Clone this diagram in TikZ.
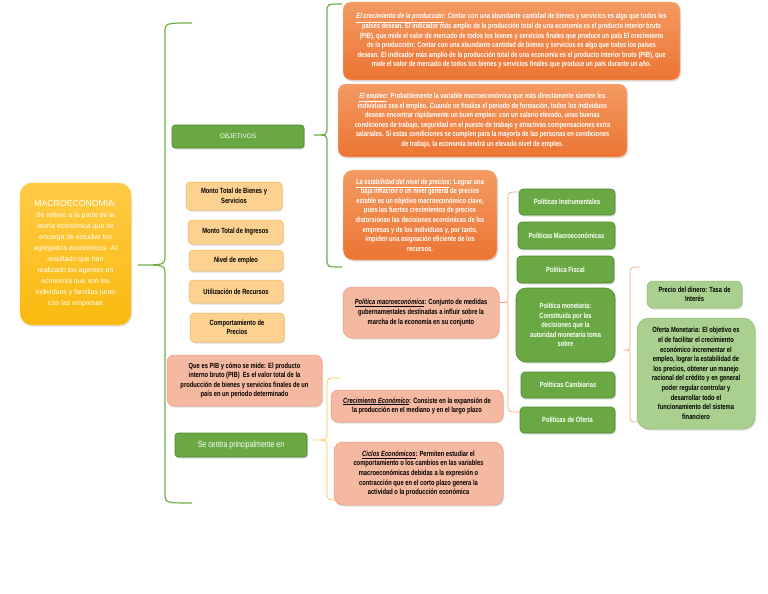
\documentclass[tikz,border=0pt]{standalone}
\usepackage{fontspec}
\setmainfont{Liberation Sans}
\newfontfamily\narrowfont[FakeStretch=0.77]{Liberation Sans}
\usetikzlibrary{shadows}
\definecolor{orng}{HTML}{EC7533}
\definecolor{orngtop}{HTML}{F39A62}
\definecolor{gold}{HTML}{F9B90E}
\definecolor{goldtop}{HTML}{FFCB45}
\definecolor{peach}{HTML}{FDD291}
\definecolor{peachdk}{HTML}{F5B552}
\definecolor{salmon}{HTML}{F5B8A0}
\definecolor{salmondk}{HTML}{EC9A7C}
\definecolor{grn}{HTML}{69A843}
\definecolor{grndk}{HTML}{4F8A30}
\definecolor{ltgrn}{HTML}{A9D08E}
\definecolor{ltgrndk}{HTML}{8DBB70}
\definecolor{bracegrn}{HTML}{70AD47}
\definecolor{braceorng}{HTML}{F2A070}
\definecolor{braceyel}{HTML}{FFC24A}

\begin{document}
\begin{tikzpicture}[x=1pt, y=-1pt,
  box/.style={rounded corners=4pt, align=center, inner sep=0pt,
    drop shadow={shadow xshift=1pt, shadow yshift=-1.5pt, opacity=.25},
    font=\narrowfont\fontsize{7.5}{9.6}\selectfont\bfseries},
  orangebox/.style={box, top color=orngtop, bottom color=orng, draw=orngtop!60, text=white, rounded corners=8pt},
  goldbox/.style={box, top color=goldtop, bottom color=gold, draw=goldtop, text=white, rounded corners=12pt,
    font=\fontsize{7}{11}\selectfont},
  peachbox/.style={box, fill=peach, draw=peachdk, line width=0.5pt, text=black},
  salmonbox/.style={box, fill=salmon, draw=salmondk, line width=0.5pt, text=black, rounded corners=7pt},
  greenbox/.style={box, fill=grn, draw=grndk, line width=0.6pt, text=white},
  ltgreenbox/.style={box, fill=ltgrn, draw=ltgrndk, line width=0.5pt, text=black, rounded corners=6pt},
  bracegreen/.style={bracegrn, line width=1.2pt},
  braceorange/.style={braceorng, line width=0.6pt},
  braceyellow/.style={braceyel, line width=0.7pt}]

\useasboundingbox (0,0) rectangle (768,594);
\fill[white] (0,0) rectangle (768,594);

% ------------------------------------------------------------
% Main concept
% ------------------------------------------------------------
\node[goldbox, minimum width=111pt, minimum height=142pt] (macro) at (75.5,254)
  {{\fontsize{8.7}{11}\selectfont MACROECONOMIA:}\\Se refiere a la parte de la\\teoría económica que se\\encarga de estudiar los\\agregados económicos. Al\\resultado que han\\realizado los agentes en\\economía que son los\\individuos y familias junto\\con las empresas};

% Big brace (green)
\coordinate (tipmain) at (138,265);
\draw[bracegreen] (192,23) .. controls (165,23) .. (165,33) -- (165,255)
  .. controls (165,265) .. (tipmain) .. controls (165,265) .. (165,275)
  -- (165,493) .. controls (165,503) .. (192,503);

% ------------------------------------------------------------
% Objetivos
% ------------------------------------------------------------
\node[greenbox, rounded corners=3pt, minimum width=132pt, minimum height=23pt,
  font=\fontsize{6.5}{8}\selectfont] (objetivos) at (238,136.5) {OBJETIVOS};

\coordinate (tipobj) at (314,135);
\draw[bracegreen] (342,4) .. controls (327,4) .. (327,12) -- (327,127)
  .. controls (327,135) .. (tipobj) .. controls (327,135) .. (327,143)
  -- (327,259) .. controls (327,267) .. (342,267);

\node[orangebox, minimum width=337pt, minimum height=78pt] (crecprod) at (511.5,41)
  {\underline{\itshape El crecimiento de la producción}: Contar con una abundante cantidad de bienes y servicios es algo que todos los\\
   países desean. El indicador más amplio de la producción total de una economía es el producto interior bruto\\
   (PIB), que mide el valor de mercado de todos los bienes y servicios finales que produce un país El crecimiento\\
   de la producción: Contar con una abundante cantidad de bienes y servicios es algo que todos los países\\
   desean. El indicador más amplio de la producción total de una economía es el producto interior bruto (PIB), que\\
   mide el valor de mercado de todos los bienes y servicios finales que produce un país durante un año.};

\node[orangebox, minimum width=289pt, minimum height=73pt] (empleo) at (482.5,120.5)
  {\underline{\itshape El empleo}: Probablemente la variable macroeconómica que más directamente sienten los\\
   individuos sea el empleo. Cuando se finaliza el periodo de formación, todos los individuos\\
   desean encontrar rápidamente un buen empleo: con un salario elevado, unas buenas\\
   condiciones de trabajo, seguridad en el puesto de trabajo y atractivas compensaciones extra\\
   salariales. Si estas condiciones se cumplen para la mayoría de las personas en condiciones\\
   de trabajo, la economía tendrá un elevado nivel de empleo.};

\node[orangebox, rounded corners=10pt, minimum width=154pt, minimum height=90pt] (precios) at (420,215)
  {\underline{\itshape La estabilidad del nivel de precios}: Lograr una\\
   baja inflación o un nivel general de precios\\
   estable es un objetivo macroeconómico clave,\\
   pues los fuertes crecimientos de precios\\
   distorsionan las decisiones económicas de las\\
   empresas y de los individuos y, por tanto,\\
   impiden una asignación eficiente de los\\
   recursos.};

% ------------------------------------------------------------
% Small aims
% ------------------------------------------------------------
\node[peachbox, minimum width=96pt, minimum height=28pt] (bienes) at (234,196) {Monto Total de Bienes y\\Servicios};
\node[peachbox, minimum width=95pt, minimum height=24pt] (ingresos) at (235.5,232) {Monto Total de Ingresos};
\node[peachbox, minimum width=94pt, minimum height=21pt] (nivel) at (236,260.5) {Nivel de empleo};
\node[peachbox, minimum width=94pt, minimum height=23pt] (recursos) at (236,291.5) {Utilización de Recursos};
\node[peachbox, minimum width=94pt, minimum height=29pt] (comport) at (237,327.5) {Comportamiento de\\Precios};

\node[salmonbox, minimum width=155pt, minimum height=51pt] (pib) at (244.5,380.5)
  {Que es PIB y cómo se mide: El producto\\
   interno bruto (PIB)~ Es el valor total de la\\
   producción de bienes y servicios finales de un\\
   país en un periodo determinado};

% ------------------------------------------------------------
% Se centra principalmente en
% ------------------------------------------------------------
\node[greenbox, rounded corners=3pt, minimum width=132pt, minimum height=24pt,
  font=\narrowfont\fontsize{9}{10}\selectfont] (centra) at (241,445) {Se centra principalmente en};

\coordinate (tipcentra) at (313,440);
\draw[braceyellow] (340,378) .. controls (327,378) .. (327,386) -- (327,432)
  .. controls (327,440) .. (tipcentra) .. controls (327,440) .. (327,448)
  -- (327,492) .. controls (327,500) .. (340,500);

\node[salmonbox, minimum width=172pt, minimum height=32pt] (crececo) at (417,406)
  {\underline{\itshape Crecimiento Económico}: Consiste en la expansión de\\
   la producción en el mediano y en el largo plazo};

\node[salmonbox, rounded corners=9pt, minimum width=169pt, minimum height=63pt] (ciclos) at (418.5,473.5)
  {\underline{\itshape Ciclos Económicos}: Permiten estudiar el\\
   comportamiento o los cambios en las variables\\
   macroeconómicas debidas a la expresión o\\
   contracción que en el corto plazo genera la\\
   actividad o la producción económica};

% ------------------------------------------------------------
% Politica macroeconomica
% ------------------------------------------------------------
\node[salmonbox, rounded corners=9pt, minimum width=156pt, minimum height=51pt] (polmacro) at (421,312.5)
  {\underline{\itshape Política macroeconómica}: Conjunto de medidas\\
   gubernamentales destinadas a influir sobre la\\
   marcha de la economía en su conjunto};

\coordinate (tippol) at (505,302);
\draw[braceorange] (polmacro.east |- tippol) -- (tippol);
\draw[braceorange] (518,192) .. controls (508,192) .. (508,200) -- (508,296)
  .. controls (508,302) .. (tippol) .. controls (508,302) .. (508,308)
  -- (508,405) .. controls (508,412) .. (520,412);

\node[greenbox, minimum width=96pt, minimum height=26pt] (instr) at (567,202) {Políticas Instrumentales};
\node[greenbox, minimum width=97pt, minimum height=27pt] (macroeco) at (566.5,235.5) {Políticas Macroeconómicas};
\node[greenbox, minimum width=97pt, minimum height=27pt] (fiscal) at (565.5,269.5) {Política Fiscal};
\node[greenbox, rounded corners=10pt, minimum width=99pt, minimum height=74pt] (monetaria) at (565.5,325)
  {Política monetaria:\\Constituida por las\\decisiones que la\\autoridad monetaria toma\\sobre};
\node[greenbox, minimum width=94pt, minimum height=26pt] (cambiarias) at (568,385) {Políticas Cambiarias};
\node[greenbox, minimum width=95pt, minimum height=26pt] (oferta) at (567.5,420) {Políticas de Oferta};

% ------------------------------------------------------------
% Politica monetaria detail
% ------------------------------------------------------------
\coordinate (tipmon) at (624,350);
\draw[braceorange] (640,267) .. controls (630,267) .. (630,275) -- (630,343)
  .. controls (630,350) .. (tipmon) .. controls (630,350) .. (630,357)
  -- (630,415) .. controls (630,422) .. (640,422);

\node[ltgreenbox, minimum width=95pt, minimum height=27pt] (precdinero) at (694.5,294.5)
  {Precio del dinero: Tasa de\\Interés};
\node[ltgreenbox, rounded corners=12pt, minimum width=118pt, minimum height=111pt] (ofertamon) at (696,373.5)
  {Oferta Monetaria: El objetivo es\\
   el de facilitar el crecimiento\\
   económico incrementar el\\
   empleo, lograr la estabilidad de\\
   los precios, obtener un manejo\\
   racional del crédito y en general\\
   poder regular controlar y\\
   desarrollar todo el\\
   funcionamiento del sistema\\
   financiero};

\end{tikzpicture}
\end{document}
